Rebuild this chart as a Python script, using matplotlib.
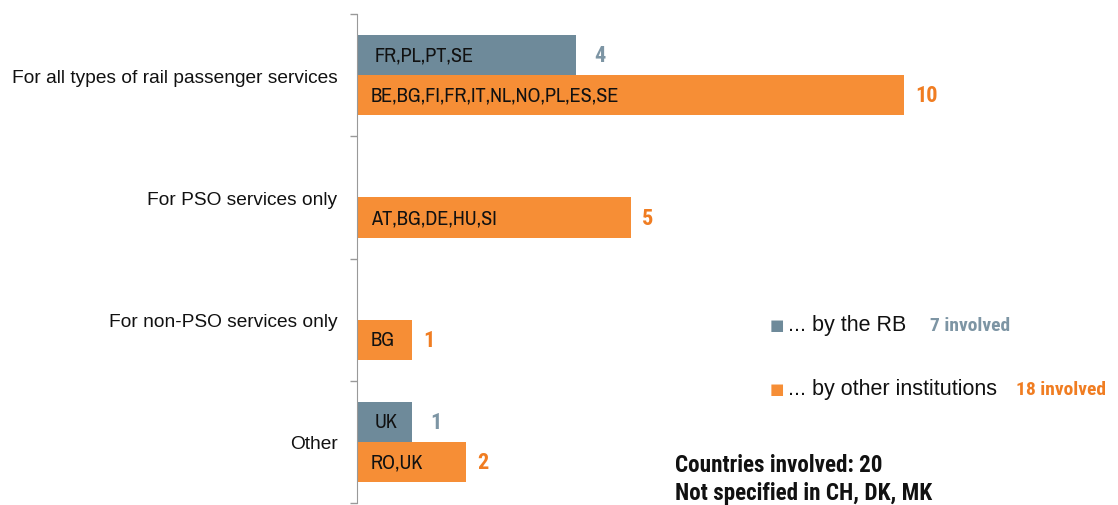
import numpy as np
import matplotlib
matplotlib.use("Agg")
from matplotlib import pyplot as plt

categories = ["For all types of rail passenger services",
              "For PSO services only",
              "For non-PSO services only",
              "Other"]
rb_values = [4, 0, 0, 1]
rb_countries = ["FR,PL,PT,SE", "", "", "UK"]
other_values = [10, 5, 1, 2]
other_countries = ["BE,BG,FI,FR,IT,NL,NO,PL,ES,SE", "AT,BG,DE,HU,SI", "BG", "RO,UK"]
legend_labels = ["... by the RB", "... by other institutions"]
legend_counts = ["7 involved", "18 involved"]
footnote = ["Countries involved: 20", "Not specified in CH, DK, MK"]

GREY = "#6e8a9a"
ORANGE = "#f68e36"
GREY_TXT = "#7d95a4"
ORANGE_TXT = "#f07d22"

NARROW = ["Archivo Narrow", "Liberation Sans"]
NARROW_BOLD = ["Roboto Condensed", "Liberation Sans"]
plt.rcParams['font.family'] = ["Liberation Sans", "DejaVu Sans"]

W, H = 1118, 506
fig = plt.figure(figsize=(W / 100, H / 100), dpi=100)


def px(x, y):
    return x / W, 1 - y / H


ax = fig.add_axes([357 / W, 2 / H, 547 / W, 489 / H])
ax.set_xlim(0, 10)
ax.set_ylim(len(categories) - 0.5, -0.5)

y = np.arange(len(categories))
bh = 0.33
off = bh / 2

for i in y:
    if rb_values[i] > 0:
        ax.barh(i - off, rb_values[i], height=bh, color=GREY, clip_on=False)
        ax.annotate(rb_countries[i], (0, i - off), xytext=(13, 0), textcoords="offset points",
                    ha="left", va="center", fontsize=14.6, family=NARROW, color="#111111")
        ax.annotate(str(rb_values[i]), (rb_values[i], i - off), xytext=(13, 0),
                    textcoords="offset points", ha="left", va="center", fontsize=16,
                    fontweight="bold", family=NARROW_BOLD, color=GREY_TXT, annotation_clip=False)
    ax.barh(i + off, other_values[i], height=bh, color=ORANGE, clip_on=False)
    ax.annotate(other_countries[i], (0, i + off), xytext=(10, 0), textcoords="offset points",
                ha="left", va="center", fontsize=14.6, family=NARROW, color="#111111")
    ax.annotate(str(other_values[i]), (other_values[i], i + off), xytext=(8, 0),
                textcoords="offset points", ha="left", va="center", fontsize=16,
                fontweight="bold", family=NARROW_BOLD, color=ORANGE_TXT, annotation_clip=False)

# category boundaries as outward ticks, names as unticked minor labels
ax.set_yticks(np.arange(-0.5, len(categories), 1.0))
ax.set_yticklabels([])
ax.set_yticks(y, minor=True)
ax.set_yticklabels(categories, minor=True, fontsize=13.8, color="#111111")
ax.tick_params(axis="y", which="major", length=5, width=1, color="#999999", direction="out")
ax.tick_params(axis="y", which="minor", length=0, pad=14)
ax.set_xticks([])
for s in ["top", "right", "bottom"]:
    ax.spines[s].set_visible(False)
ax.spines["left"].set_color("#999999")

# legend
for (lx, ly), col, lab, cnt, cx, ccol in [((777, 326), GREY, legend_labels[0], legend_counts[0], 930, GREY_TXT),
                                          ((777, 390), ORANGE, legend_labels[1], legend_counts[1], 1016, ORANGE_TXT)]:
    fig.text(*px(lx, ly), "\u25A0", color=col, fontsize=11, ha="center", va="center",
             family=["DejaVu Sans"])
    fig.text(*px(788, ly), lab, fontsize=15.5, ha="left", va="center", color="#111111")
    fig.text(*px(cx, ly), cnt, fontsize=14, fontweight="bold", ha="left", va="center",
             color=ccol, family=NARROW_BOLD)

fig.text(*px(675, 466), footnote[0], fontsize=16.7, fontweight="bold", ha="left", va="center",
         family=NARROW_BOLD, color="#111111")
fig.text(*px(675, 494), footnote[1], fontsize=16.7, fontweight="bold", ha="left", va="center",
         family=NARROW_BOLD, color="#111111")

fig.savefig("out.png", dpi=100)
